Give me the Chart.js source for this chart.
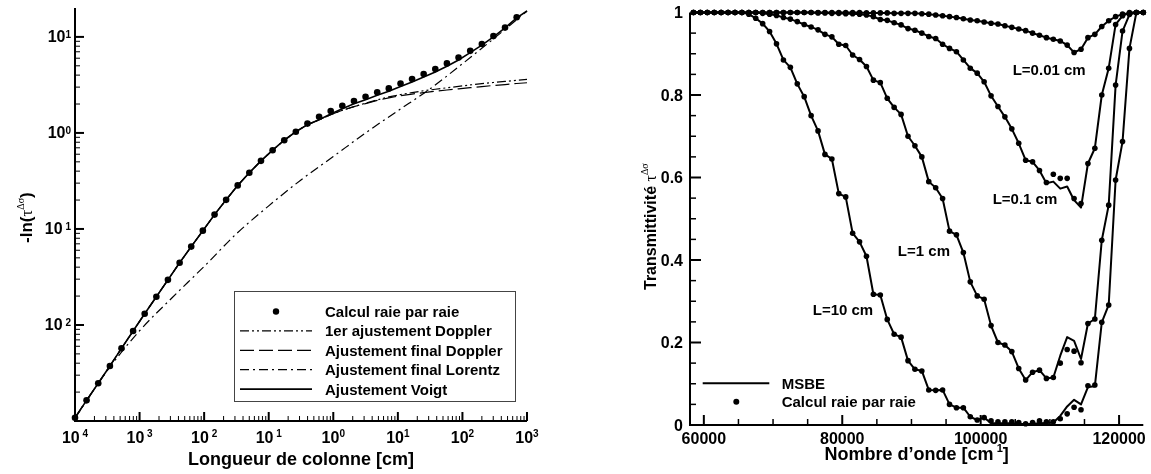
<!DOCTYPE html>
<html>
<head>
<meta charset="utf-8">
<script src="https://cdn.jsdelivr.net/npm/chart.js@4.4.0/dist/chart.umd.min.js"></script>
<style>
  body { margin: 0; background: #fff; }
  #wrap { position: relative; width: 1151px; height: 474px; }
  canvas { position: absolute; top: 0; }
</style>
</head>
<body>
<div id="wrap">
  <canvas id="gauche" width="575" height="474" style="left:0"></canvas>
  <canvas id="droite" width="576" height="474" style="left:575px"></canvas>
</div>
<script>
// ---- panneau gauche : -ln(tau) en fonction de la longueur de colonne ----
const colLength = [1.00e-4, 1.51e-4, 2.29e-4, 3.47e-4, 5.25e-4, 7.94e-4, 1.20e-3, 1.82e-3, 2.75e-3, 4.17e-3,
  6.31e-3, 9.55e-3, 1.45e-2, 2.19e-2, 3.31e-2, 5.01e-2, 7.59e-2, 0.115, 0.174, 0.263,
  0.398, 0.603, 0.912, 1.38, 2.09, 3.16, 4.79, 7.24, 11.0, 16.6,
  25.1, 38.0, 57.5, 87.1, 132, 200, 302, 457, 692];
const lblDots = [1.08e-3, 1.64e-3, 2.47e-3, 3.74e-3, 5.71e-3, 8.65e-3, 1.31e-2, 1.97e-2, 2.95e-2, 4.44e-2,
  6.55e-2, 9.60e-2, 0.141, 0.201, 0.284, 0.385, 0.512, 0.661, 0.839, 1.03,
  1.25, 1.47, 1.69, 1.92, 2.15, 2.38, 2.65, 2.91, 3.27, 3.64,
  4.10, 4.62, 5.30, 6.11, 7.16, 8.45, 10.2, 12.5, 16.0];
const fitLength = [1.00e-4, 1.51e-4, 2.29e-4, 3.47e-4, 5.25e-4, 7.94e-4, 1.20e-3, 1.82e-3, 2.75e-3, 4.17e-3,
  6.31e-3, 9.55e-3, 1.45e-2, 2.19e-2, 3.31e-2, 5.01e-2, 7.59e-2, 0.115, 0.174, 0.263,
  0.398, 0.603, 0.912, 1.38, 2.09, 3.16, 4.79, 7.24, 11.0, 16.6,
  25.1, 38.0, 57.5, 87.1, 132, 200, 302, 457, 692, 1000];
const voigt = [1.08e-3, 1.64e-3, 2.47e-3, 3.74e-3, 5.71e-3, 8.65e-3, 1.31e-2, 1.97e-2, 2.95e-2, 4.44e-2,
  6.55e-2, 9.60e-2, 0.141, 0.201, 0.284, 0.385, 0.512, 0.661, 0.839, 1.03,
  1.22, 1.37, 1.58, 1.79, 2.01, 2.22, 2.47, 2.72, 3.05, 3.40,
  3.83, 4.31, 4.95, 5.75, 6.85, 8.20, 10.0, 12.4, 15.8, 18.6];
const doppler1 = [1.08e-3, 1.64e-3, 2.47e-3, 3.74e-3, 5.71e-3, 8.65e-3, 1.31e-2, 1.97e-2, 2.95e-2, 4.44e-2,
  6.55e-2, 9.60e-2, 0.141, 0.201, 0.284, 0.385, 0.512, 0.661, 0.839, 1.03,
  1.22, 1.37, 1.55, 1.72, 1.88, 2.04, 2.21, 2.37, 2.51, 2.63,
  2.75, 2.85, 2.95, 3.05, 3.16, 3.26, 3.35, 3.44, 3.53, 3.61];
const dopplerFinal = [1.08e-3, 1.64e-3, 2.47e-3, 3.74e-3, 5.71e-3, 8.65e-3, 1.31e-2, 1.97e-2, 2.95e-2, 4.44e-2,
  6.55e-2, 9.60e-2, 0.141, 0.201, 0.284, 0.385, 0.512, 0.661, 0.839, 1.03,
  1.22, 1.37, 1.55, 1.72, 1.88, 2.02, 2.18, 2.32, 2.44, 2.54,
  2.63, 2.72, 2.80, 2.88, 2.96, 3.04, 3.12, 3.19, 3.27, 3.33];
const lorentzLength = [1e-4, 3.16e-4, 1e-3, 3.16e-3, 1e-2, 3.16e-2, 0.1, 0.316, 1, 3.16, 10, 31.6, 100, 316, 1000];
const lorentz = [1.07e-3, 3.35e-3, 8.71e-3, 0.0191, 0.0407, 0.0891, 0.174, 0.324, 0.568, 1.0, 1.70, 2.88, 5.25, 9.77, 18.6];
const leftXDecades = [-4, -3, -2, -1, 0, 1, 2, 3];
const leftYDecades = [-2, -1, 0, 1];
const leftLabels = ['Calcul raie par raie', '1er ajustement Doppler', 'Ajustement final Doppler',
  'Ajustement final Lorentz', 'Ajustement Voigt'];

// ---- panneau droit : transmittivité en fonction du nombre d'onde ----
const wavenumber = [58500, 59500, 60500, 61500, 62500, 63500, 64500, 65500, 66500, 67500,
  68500, 69500, 70500, 71500, 72500, 73500, 74500, 75500, 76500, 77500,
  78500, 79500, 80500, 81500, 82500, 83500, 84500, 85500, 86500, 87500,
  88500, 89500, 90500, 91500, 92500, 93500, 94500, 95500, 96500, 97500,
  98500, 99500, 100500, 101500, 102500, 103500, 104500, 105500, 106500, 107500,
  108500, 109500, 110500, 111500, 112500, 113500, 114500, 115500, 116500, 117500,
  118500, 119500, 120500, 121500, 122500, 123500];
const lbl001 = [1, 1, 1, 1, 1, 1, 1, 1, 1, 1,
  1, 1, 1, 1, 1, 1, 1, 1, 1, 1,
  1, 1, 1, 1, 1, 0.999, 0.999, 0.999, 0.999, 0.998,
  0.998, 0.998, 0.998, 0.997, 0.996, 0.994, 0.992, 0.990, 0.988, 0.985,
  0.982, 0.980, 0.977, 0.974, 0.972, 0.968, 0.964, 0.960, 0.956, 0.950,
  0.945, 0.939, 0.935, 0.931, 0.921, 0.903, 0.911, 0.939, 0.947, 0.966,
  0.980, 0.990, 0.996, 0.998, 1, 1];
const msbe001 = lbl001;
const lbl01 = [1, 1, 1, 1, 1, 1, 1, 1, 1, 1,
  1, 1, 1, 1, 1, 1, 1, 1, 0.999, 0.999,
  0.998, 0.998, 0.997, 0.997, 0.996, 0.994, 0.990, 0.983, 0.981, 0.975,
  0.970, 0.961, 0.957, 0.950, 0.942, 0.937, 0.923, 0.913, 0.905, 0.885,
  0.865, 0.853, 0.832, 0.798, 0.772, 0.747, 0.718, 0.683, 0.642, 0.638,
  0.617, 0.588, 0.608, 0.598, 0.598, 0.549, 0.537, 0.634, 0.671, 0.800,
  0.865, 0.971, 0.992, 1, 1, 1];
const msbe01 = [1, 1, 1, 1, 1, 1, 1, 1, 1, 1,
  1, 1, 1, 1, 1, 1, 1, 1, 0.999, 0.999,
  0.998, 0.998, 0.997, 0.997, 0.996, 0.994, 0.990, 0.983, 0.981, 0.975,
  0.970, 0.961, 0.957, 0.950, 0.942, 0.937, 0.923, 0.913, 0.905, 0.885,
  0.865, 0.853, 0.832, 0.798, 0.772, 0.747, 0.718, 0.683, 0.642, 0.638,
  0.617, 0.586, 0.590, 0.573, 0.578, 0.545, 0.527, 0.634, 0.671, 0.800,
  0.865, 0.971, 0.992, 1, 1, 1];
const lbl1 = [1, 1, 1, 1, 1, 1, 1, 1, 1, 1,
  0.998, 0.996, 0.993, 0.988, 0.984, 0.978, 0.971, 0.965, 0.958, 0.947,
  0.941, 0.923, 0.920, 0.897, 0.886, 0.869, 0.836, 0.830, 0.792, 0.770,
  0.753, 0.700, 0.677, 0.650, 0.590, 0.575, 0.549, 0.470, 0.461, 0.418,
  0.347, 0.313, 0.305, 0.241, 0.200, 0.194, 0.178, 0.137, 0.109, 0.128,
  0.133, 0.113, 0.115, 0.150, 0.183, 0.179, 0.151, 0.246, 0.257, 0.448,
  0.533, 0.824, 0.955, 0.995, 1, 1];
const msbe1 = [1, 1, 1, 1, 1, 1, 1, 1, 1, 1,
  0.998, 0.996, 0.993, 0.988, 0.984, 0.978, 0.971, 0.965, 0.958, 0.947,
  0.941, 0.923, 0.920, 0.897, 0.886, 0.869, 0.836, 0.830, 0.792, 0.770,
  0.753, 0.700, 0.677, 0.650, 0.590, 0.575, 0.549, 0.470, 0.461, 0.418,
  0.347, 0.313, 0.305, 0.241, 0.200, 0.194, 0.178, 0.137, 0.109, 0.128,
  0.133, 0.113, 0.115, 0.168, 0.213, 0.204, 0.160, 0.246, 0.257, 0.448,
  0.533, 0.824, 0.955, 0.995, 1, 1];
const lbl10 = [1, 1, 1, 1, 1, 1, 1, 1, 0.996, 0.986,
  0.973, 0.954, 0.924, 0.885, 0.867, 0.827, 0.796, 0.750, 0.713, 0.656,
  0.645, 0.561, 0.553, 0.465, 0.444, 0.409, 0.317, 0.315, 0.256, 0.220,
  0.213, 0.156, 0.135, 0.131, 0.085, 0.084, 0.085, 0.050, 0.042, 0.042,
  0.020, 0.012, 0.018, 0.010, 0.008, 0.008, 0.008, 0.006, 0.003, 0.006,
  0.010, 0.008, 0.008, 0.015, 0.027, 0.043, 0.037, 0.095, 0.097, 0.249,
  0.291, 0.594, 0.687, 0.913, 1, 1];
const msbe10 = [1, 1, 1, 1, 1, 1, 1, 1, 0.996, 0.986,
  0.973, 0.954, 0.924, 0.885, 0.867, 0.827, 0.796, 0.750, 0.713, 0.656,
  0.645, 0.561, 0.553, 0.465, 0.444, 0.409, 0.317, 0.315, 0.256, 0.220,
  0.213, 0.156, 0.135, 0.131, 0.085, 0.084, 0.085, 0.050, 0.042, 0.042,
  0.020, 0.012, 0.018, 0.004, 0.004, 0.004, 0.004, 0.003, 0.002, 0.003,
  0.004, 0.005, 0.006, 0.022, 0.045, 0.061, 0.050, 0.092, 0.094, 0.249,
  0.291, 0.594, 0.687, 0.913, 1, 1];
const rightXTicks = [60000, 80000, 100000, 120000];
const rightYTicks = [0, 0.2, 0.4, 0.6, 0.8, 1];
const rightYLabels = ['0', '0.2', '0.4', '0.6', '0.8', '1'];
const curveNames = ['L=0.01 cm', 'L=0.1 cm', 'L=1 cm', 'L=10 cm'];

const FONT = '"Liberation Sans", Arial, Helvetica, sans-serif';
const SERIF = '"Liberation Serif", "DejaVu Serif", serif';
const pts = (xs, ys) => xs.map((v, i) => ({ x: v, y: ys[i] }));

function tick(ctx, x1, y1, x2, y2, w) {
  ctx.lineWidth = w;
  ctx.beginPath();
  ctx.moveTo(x1, y1);
  ctx.lineTo(x2, y2);
  ctx.stroke();
}

// dessine un texte en plusieurs morceaux (exposants), parts = [texte, police, décalage vertical]
function drawParts(ctx, parts, x, y, align) {
  let w = 0;
  parts.forEach(p => { ctx.font = p[1]; w += ctx.measureText(p[0]).width; });
  let cx = align === 'center' ? x - w / 2 : (align === 'right' ? x - w : x);
  ctx.textAlign = 'left';
  ctx.textBaseline = 'alphabetic';
  parts.forEach(p => {
    ctx.font = p[1];
    ctx.fillText(p[0], cx, y - (p[2] || 0));
    cx += ctx.measureText(p[0]).width;
  });
}

function powParts(exp, raise) {
  const sup = exp < 0 ? ' ' + (-exp) : String(exp);
  return [['10', 'bold 16px ' + FONT, 0], [sup, 'bold 10px ' + FONT, raise]];
}

const axesGauche = {
  id: 'axesGauche',
  beforeDatasetsDraw(chart) {
    const { ctx, chartArea: a, scales: { x, y } } = chart;
    ctx.save();
    ctx.strokeStyle = '#000';
    ctx.lineWidth = 2;
    ctx.beginPath();
    ctx.moveTo(a.left, a.top);
    ctx.lineTo(a.left, a.bottom);
    ctx.lineTo(a.right, a.bottom);
    ctx.stroke();
    for (let d = -4; d <= 3; d++) {
      const px = x.getPixelForValue(Math.pow(10, d));
      tick(ctx, px, a.bottom, px, a.bottom - 9, 2);
      if (d < 3) {
        for (let m = 2; m <= 9; m++) {
          const pm = x.getPixelForValue(m * Math.pow(10, d));
          tick(ctx, pm, a.bottom, pm, a.bottom - 5, 1);
        }
      }
    }
    for (let d = -3; d <= 1; d++) {
      const py = y.getPixelForValue(Math.pow(10, d));
      tick(ctx, a.left, py, a.left + 9, py, 2);
      for (let m = 2; m <= 9; m++) {
        const v = m * Math.pow(10, d);
        if (v >= y.max) break;
        const pm = y.getPixelForValue(v);
        tick(ctx, a.left, pm, a.left + 5, pm, 1);
      }
    }
    ctx.restore();
  },
  afterDraw(chart) {
    const { ctx, chartArea: a, scales: { x, y } } = chart;
    ctx.save();
    ctx.fillStyle = '#000';
    leftXDecades.forEach(d => {
      drawParts(ctx, powParts(d, 6), x.getPixelForValue(Math.pow(10, d)), a.bottom + 22, 'center');
    });
    leftYDecades.forEach(d => {
      drawParts(ctx, powParts(d, 4.5), a.left - 4, y.getPixelForValue(Math.pow(10, d)) + 5.5, 'right');
    });
    drawParts(ctx, [['Longueur de colonne [cm]', 'bold 18px ' + FONT, 0]], (a.left + a.right) / 2, 465, 'center');
    ctx.save();
    ctx.translate(32, 243);
    ctx.rotate(-Math.PI / 2);
    drawParts(ctx, [['-ln(', 'bold 17px ' + FONT, 0], ['\u03c4', '17px ' + SERIF, 0],
      ['\u0394\u03c3', '10px ' + SERIF, 8], [')', 'bold 17px ' + FONT, 0]], 0, 0, 'left');
    ctx.restore();

    // légende encadrée
    ctx.fillStyle = '#fff';
    ctx.fillRect(234.5, 291.5, 281, 110);
    ctx.strokeStyle = '#444';
    ctx.lineWidth = 1;
    ctx.strokeRect(234.5, 291.5, 281, 110);
    chart.data.datasets.forEach((ds, i) => {
      const ry = 311.5 + i * 19.4;
      ctx.strokeStyle = '#000';
      ctx.fillStyle = '#000';
      if (ds.showLine) {
        ctx.lineWidth = ds.borderWidth;
        ctx.setLineDash(ds.borderDash || []);
        ctx.beginPath();
        ctx.moveTo(240, ry);
        ctx.lineTo(312, ry);
        ctx.stroke();
        ctx.setLineDash([]);
      } else {
        ctx.beginPath();
        ctx.arc(276, ry, 3.2, 0, Math.PI * 2);
        ctx.fill();
      }
      drawParts(ctx, [[leftLabels[i], 'bold 15px ' + FONT, 0]], 325, ry + 5.5, 'left');
    });
    ctx.restore();
  }
};

new Chart(document.getElementById('gauche'), {
  type: 'scatter',
  data: {
    datasets: [
      { label: leftLabels[0], data: pts(colLength, lblDots), showLine: false, pointRadius: 3.3,
        pointBackgroundColor: '#000', pointBorderWidth: 0, clip: false },
      { label: leftLabels[1], data: pts(fitLength, doppler1), showLine: true, borderColor: '#000',
        borderWidth: 1.2, borderDash: [9, 3, 2, 3, 2, 3], pointRadius: 0, clip: false },
      { label: leftLabels[2], data: pts(fitLength, dopplerFinal), showLine: true, borderColor: '#000',
        borderWidth: 1.2, borderDash: [14, 5], pointRadius: 0, clip: false },
      { label: leftLabels[3], data: pts(lorentzLength, lorentz), showLine: true, borderColor: '#000',
        borderWidth: 1.2, borderDash: [9, 4, 2, 4], pointRadius: 0, cubicInterpolationMode: 'monotone', clip: false },
      { label: leftLabels[4], data: pts(fitLength, voigt), showLine: true, borderColor: '#000',
        borderWidth: 1.6, pointRadius: 0, clip: false }
    ]
  },
  options: {
    responsive: false,
    animation: false,
    layout: { padding: { left: 75, right: 48, top: 8, bottom: 53 } },
    plugins: { legend: { display: false }, tooltip: { enabled: false } },
    scales: {
      x: { type: 'logarithmic', min: 1e-4, max: 1e3, display: false },
      y: { type: 'logarithmic', min: 1e-3, max: 20, display: false }
    }
  },
  plugins: [axesGauche]
});

// positions des étiquettes de courbes (coordonnées des données)
const curveLabelPos = [[109900, 0.861], [106400, 0.548], [91800, 0.424], [80100, 0.279]];

const axesDroite = {
  id: 'axesDroite',
  beforeDatasetsDraw(chart) {
    const { ctx, chartArea: a, scales: { x, y } } = chart;
    ctx.save();
    ctx.strokeStyle = '#000';
    ctx.lineWidth = 2;
    ctx.beginPath();
    ctx.moveTo(a.left, a.top);
    ctx.lineTo(a.left, a.bottom);
    ctx.lineTo(a.right, a.bottom);
    ctx.stroke();
    for (let v = 60000; v <= 120000; v += 5000) {
      const px = x.getPixelForValue(v);
      const major = v % 20000 === 0;
      tick(ctx, px, a.bottom, px, a.bottom - (major ? 10 : 6), major ? 2 : 1.5);
    }
    for (let j = 1; j < 20; j++) {
      const py = y.getPixelForValue(j * 0.05);
      const major = j % 4 === 0;
      tick(ctx, a.left, py, a.left + (major ? 11 : 6), py, major ? 2 : 1.5);
    }
    ctx.restore();
  },
  afterDraw(chart) {
    const { ctx, chartArea: a, scales: { x, y } } = chart;
    ctx.save();
    ctx.fillStyle = '#000';
    rightXTicks.forEach(v => {
      drawParts(ctx, [[String(v), 'bold 16px ' + FONT, 0]], x.getPixelForValue(v), 443.5, 'center');
    });
    rightYTicks.forEach((v, i) => {
      drawParts(ctx, [[rightYLabels[i], 'bold 16px ' + FONT, 0]], a.left - 7, y.getPixelForValue(v) + 5.5, 'right');
    });
    curveNames.forEach((t, i) => {
      const p = curveLabelPos[i];
      drawParts(ctx, [[t, 'bold 15px ' + FONT, 0]], x.getPixelForValue(p[0]), y.getPixelForValue(p[1]) + 5.5, 'center');
    });
    drawParts(ctx, [['Nombre d\u2019onde [cm', 'bold 18px ' + FONT, 0], [' 1', 'bold 11px ' + FONT, 8],
      [']', 'bold 18px ' + FONT, 0]], (a.left + a.right) / 2, 460, 'center');
    ctx.save();
    ctx.translate(81, 290);
    ctx.rotate(-Math.PI / 2);
    drawParts(ctx, [['Transmittivit\u00e9 ', 'bold 16px ' + FONT, 0], ['\u03c4', '16px ' + SERIF, 0],
      ['\u0394\u03c3', '10px ' + SERIF, 8]], 0, 0, 'left');
    ctx.restore();

    // légende sans cadre
    ctx.strokeStyle = '#000';
    ctx.lineWidth = 2;
    ctx.beginPath();
    ctx.moveTo(127.7, 383.3);
    ctx.lineTo(194.3, 383.3);
    ctx.stroke();
    ctx.beginPath();
    ctx.arc(161.3, 401.7, 3, 0, Math.PI * 2);
    ctx.fill();
    drawParts(ctx, [['MSBE', 'bold 15px ' + FONT, 0]], 206.7, 388.8, 'left');
    drawParts(ctx, [['Calcul raie par raie', 'bold 15px ' + FONT, 0]], 206.7, 407.2, 'left');
    ctx.restore();
  }
};

const rightSets = [];
[[lbl001, msbe001], [lbl01, msbe01], [lbl1, msbe1], [lbl10, msbe10]].forEach(s => {
  rightSets.push({ label: 'Calcul raie par raie', data: pts(wavenumber, s[0]), showLine: false,
    pointRadius: 2.8, pointBackgroundColor: '#000', pointBorderWidth: 0, clip: false, order: 0 });
  rightSets.push({ label: 'MSBE', data: pts(wavenumber, s[1]), showLine: true, borderColor: '#000',
    borderWidth: 2, borderJoinStyle: 'round', pointRadius: 0, clip: false, order: 1 });
});

new Chart(document.getElementById('droite'), {
  type: 'scatter',
  data: { datasets: rightSets },
  options: {
    responsive: false,
    animation: false,
    layout: { padding: { left: 115, right: 7.7, top: 12.5, bottom: 49 } },
    plugins: { legend: { display: false }, tooltip: { enabled: false } },
    scales: {
      x: { type: 'linear', min: 58000, max: 123500, display: false },
      y: { type: 'linear', min: 0, max: 1, display: false }
    }
  },
  plugins: [axesDroite]
});
</script>
</body>
</html>
